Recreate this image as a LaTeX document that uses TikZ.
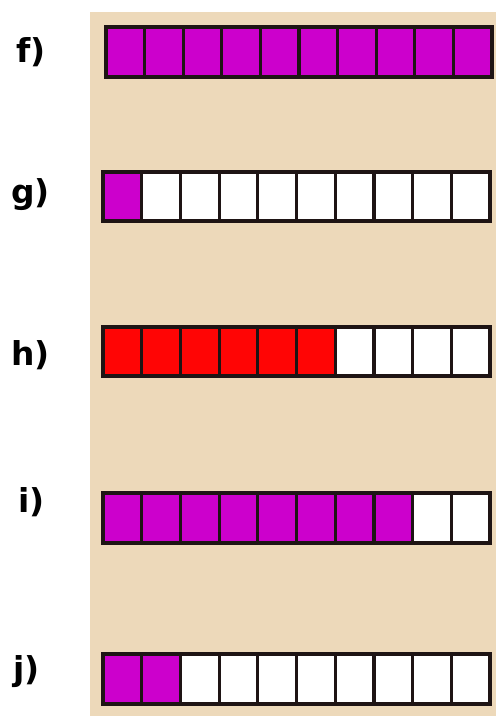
\documentclass[tikz,border=0pt]{standalone}
\usepackage{fontspec}
\setmainfont{DejaVu Sans}
\definecolor{bg}{HTML}{EDD9BA}
\definecolor{mag}{HTML}{CC00CC}
\definecolor{rd}{HTML}{FF0505}
\definecolor{ln}{HTML}{1E1414}
\tikzset{
  lbl/.style={anchor=base west, inner sep=0pt, font=\fontsize{33}{33}\selectfont\bfseries},
  cell/.style={draw=ln, line width=3.2bp}
}
\newcommand{\mybar}[6]{% x0 x1 ytop ybot nfilled color
  \foreach \k in {0,...,9}{
    \pgfmathsetmacro{\xa}{#1+(#2-#1)*\k/10}
    \pgfmathsetmacro{\xb}{#1+(#2-#1)*(\k+1)/10}
    \ifnum\k<#5
      \fill[#6] (\xa,#3) rectangle (\xb,#4);
    \else
      \fill[white] (\xa,#3) rectangle (\xb,#4);
    \fi
  }
  \foreach \k in {1,...,9}{
    \pgfmathsetmacro{\xa}{#1+(#2-#1)*\k/10}
    \draw[cell] (\xa,#3) -- (\xa,#4);
  }
  \draw[cell] (#1,#3) rectangle (#2,#4);
}
\begin{document}
\begin{tikzpicture}[x=1bp,y=-1bp]
\useasboundingbox (0,0) rectangle (496,716);
\fill[white] (0,0) rectangle (496,716);
\fill[bg] (90,12) rectangle (496,716);
\node[lbl] (lf) at (16,63) {f)};
\node[lbl] (lg) at (11,203) {g)};
\node[lbl] (lh) at (11,365) {h)};
\node[lbl] (li) at (18,512) {i)};
\node[lbl] (lj) at (13,680) {j)};
\mybar{106}{492}{27}{77}{10}{mag}
\mybar{103}{490}{172}{221}{1}{mag}
\mybar{103}{490}{327}{376}{6}{rd}
\mybar{103}{490}{493}{543}{8}{mag}
\mybar{103}{490}{654}{704}{2}{mag}
\end{tikzpicture}
\end{document}
